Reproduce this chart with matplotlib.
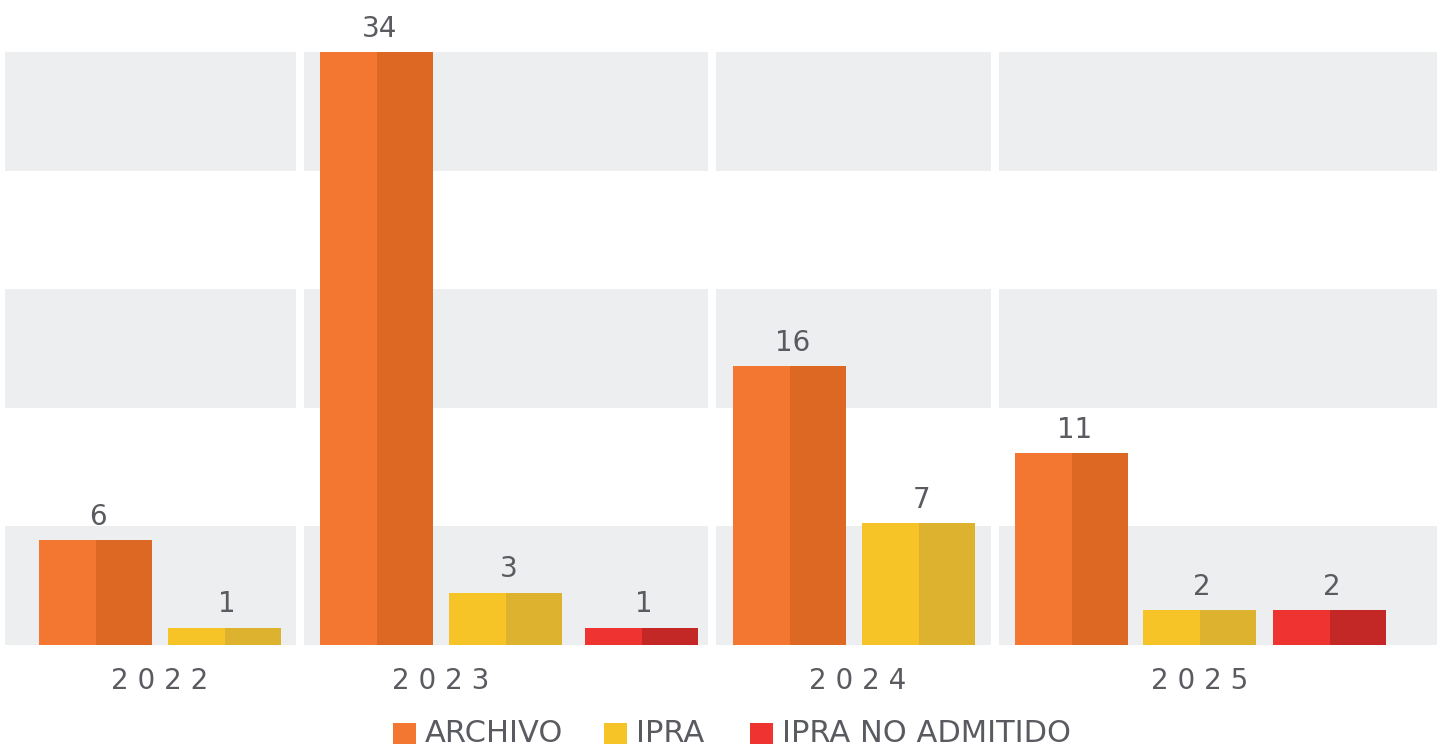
import numpy as np
import matplotlib.pyplot as plt
from matplotlib.patches import Rectangle

# data
years = ["2022", "2023", "2024", "2025"]
series = ["ARCHIVO", "IPRA", "IPRA NO ADMITIDO"]
archivo = [6, 34, 16, 11]
ipra = [1, 3, 7, 2]
no_admitido = [None, 1, None, 2]

light = {"ARCHIVO": "#F37631", "IPRA": "#F7C427", "IPRA NO ADMITIDO": "#EE3330"}
dark = {"ARCHIVO": "#DC6824", "IPRA": "#DCB22F", "IPRA NO ADMITIDO": "#C32826"}
band_grey = "#EDEEF0"
text_grey = "#5A5B60"

plt.rcParams['font.family'] = ['DejaVu Sans']

W, H = 1442, 748
fig = plt.figure(figsize=(W / 100, H / 100), dpi=100)
base_px = 645    # y pixel of the baseline
top_px = 52      # y pixel of the 34 line
ax = fig.add_axes([0, (H - base_px) / H, 1, base_px / H])
ymax = 34
ax.set_xlim(0, W)
ax.set_ylim(0, ymax * base_px / (base_px - top_px))
ax.axis("off")

# layout in pixel units (panels per year, bars inside)
panels = [(5, 296), (304, 708), (716, 991), (999, 1437)]
pads = [34, 16, 17, 16]
steps = [[0, 129], [0, 129, 265], [0, 129], [0, 128, 258]]
bar_w = 113
label_x = [160, 441, 858, 1200]

# alternating grey bands, 5 bands over 0..34
n_bands = 5
edges = np.linspace(0, ymax, n_bands + 1)
for (l, r) in panels:
    for b in range(0, n_bands, 2):
        ax.add_patch(Rectangle((l, edges[b]), r - l, edges[b + 1] - edges[b],
                               facecolor=band_grey, edgecolor="none", zorder=0))

values = {"ARCHIVO": archivo, "IPRA": ipra, "IPRA NO ADMITIDO": no_admitido}
for g, year in enumerate(years):
    left0 = panels[g][0] + pads[g]
    i = 0
    for s in series:
        v = values[s][g]
        if v is None:
            continue
        x = left0 + steps[g][i]
        ax.bar(x, v, width=bar_w / 2, align="edge", color=light[s], zorder=2)
        ax.bar(x + bar_w / 2, v, width=bar_w / 2, align="edge", color=dark[s], zorder=2)
        ax.annotate(str(v), (x + bar_w / 2, v), xytext=(2, 11), textcoords="offset points",
                    ha="center", va="baseline", fontsize=20, color=text_grey)
        i += 1
    fig.text(label_x[g] / W, 1 - 681 / H, " ".join(year), ha="center", va="center",
             fontsize=20, color=text_grey)

# legend
leg_x = [393, 604, 750]
for s, lx in zip(series, leg_x):
    fig.patches.append(Rectangle((lx / W, 1 - 744 / H), 23 / W, 21 / H,
                                 transform=fig.transFigure, facecolor=light[s],
                                 edgecolor="none"))
    fig.text((lx + 32) / W, 1 - 733 / H, s, ha="left", va="center",
             fontsize=22, color=text_grey)

fig.savefig("out.png", dpi=100)
